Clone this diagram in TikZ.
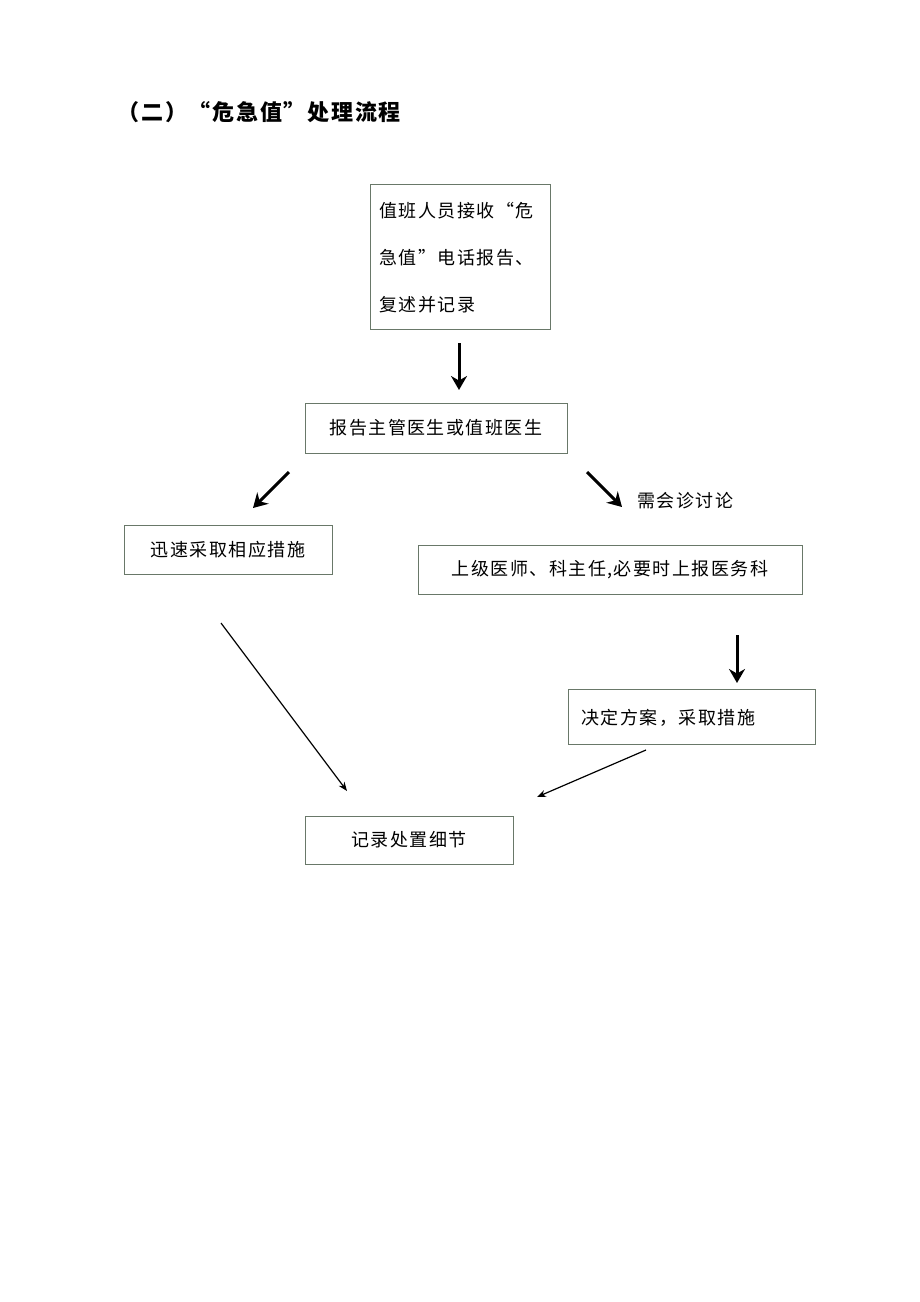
\documentclass[tikz,border=0pt]{standalone}
\usepackage{fontspec}
\usetikzlibrary{arrows.meta}
\newfontfamily\cjk[LetterSpace=8]{Noto Sans CJK SC}
\definecolor{boxline}{RGB}{105,120,105}
\begin{document}
\begin{tikzpicture}[x=1pt,y=-1pt,>=stealth,
  stepbox/.style={draw=boxline,line width=0.9pt,inner sep=0pt},
  boxtext/.style={font=\cjk\fontsize{18}{24}\selectfont,anchor=west},
  thickarrow/.style={-{Stealth[length=14pt,width=16pt]},line width=3pt},
  thinarrow/.style={-{Stealth[length=9pt,width=7pt]},line width=1.2pt}]
  \useasboundingbox (0,0) rectangle (920,1302);
  % title
  \node (title) [anchor=west,font=\cjk\bfseries\fontsize{22}{26}\selectfont] at (114,112) {（二）“危急值”处理流程};
  % boxes
  \draw [stepbox] (370,184) rectangle (550,329);
  \node (recv) [boxtext,align=left,font=\cjk\fontsize{18}{47}\selectfont] at (376,258) {值班人员接收“危\\急值”电话报告、\\复述并记录};
  \coordinate (recvB) at (459,343);
  \draw [stepbox] (305,403) rectangle (567,453);
  \node (report) [boxtext,anchor=center] at (436,428) {报告主管医生或值班医生};
  \coordinate (reportT) at (459,390);
  \draw [stepbox] (124,525) rectangle (332,574);
  \node (rapid) [boxtext,anchor=center] at (228,550) {迅速采取相应措施};
  \draw [stepbox] (418,545) rectangle (802,594);
  \node (senior) [boxtext,anchor=center] at (610,570) {上级医师、科主任,必要时上报医务科};
  \draw [stepbox] (568,689) rectangle (815,744);
  \node (decide) [boxtext] at (578,718) {决定方案，采取措施};
  \draw [stepbox] (305,816) rectangle (513,864);
  \node (record) [boxtext,anchor=center] at (409,840) {记录处置细节};
  \node (consult) [boxtext] at (634,501) {需会诊讨论};
  % connectors
  \coordinate (l1) at (289,472); \coordinate (l2) at (253,508);
  \coordinate (r1) at (587,472); \coordinate (r2) at (622,507);
  \coordinate (s1) at (737,635); \coordinate (s2) at (737,683);
  \coordinate (a1) at (221,623); \coordinate (a2) at (347,791);
  \coordinate (b1) at (646,750); \coordinate (b2) at (537,797);
  \draw [thickarrow] (recvB) -- (reportT);
  \draw [thickarrow] (l1) -- (l2);
  \draw [thickarrow] (r1) -- (r2);
  \draw [thickarrow] (s1) -- (s2);
  \draw [thinarrow] (a1) -- (a2);
  \draw [thinarrow] (b1) -- (b2);
\end{tikzpicture}
\end{document}
